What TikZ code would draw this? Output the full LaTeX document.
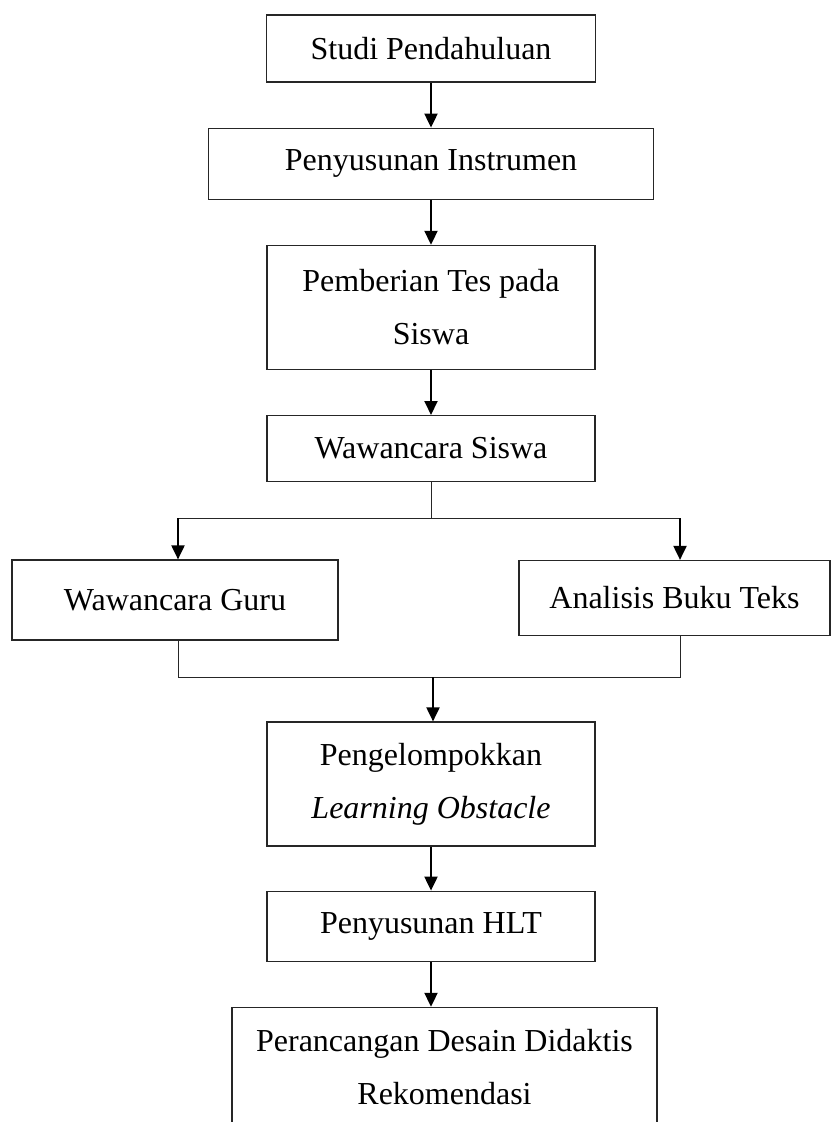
\documentclass[tikz,border=0pt]{standalone}
\usepackage{fontspec}
\setmainfont{Liberation Serif}
\usetikzlibrary{positioning,arrows.meta}

\begin{document}
\begin{tikzpicture}[x=0.5pt, y=-0.5pt,
    stepbox/.style={draw=black!85, line width=0.6pt, align=center,
        font=\fontsize{16}{26.5}\selectfont, inner sep=0pt},
    flow/.style={-{Triangle[length=7pt,width=6.5pt]}, line width=1pt},
    joint/.style={draw=black!85, line width=0.5pt},
]
\useasboundingbox (0,0) rectangle (834,1122);
\clip (0,0) rectangle (834,1122);

% Main column
\node[stepbox, minimum width=164.5pt, minimum height=33.5pt] (studi) at (431,48.5)
    {Studi Pendahuluan};
\node[stepbox, minimum width=222.5pt, minimum height=35.5pt, below=22.5pt of studi] (instrumen)
    {Penyusunan Instrumen};
\node[stepbox, minimum width=164pt, minimum height=62pt, below=22.5pt of instrumen] (tes)
    {Pemberian Tes pada\\Siswa};
\node[stepbox, minimum width=164pt, minimum height=33pt, below=22.5pt of tes] (wsiswa)
    {Wawancara Siswa};

% Two branches
\node[stepbox, minimum width=163pt, minimum height=40pt] (guru) at (175,600)
    {Wawancara Guru};
\node[stepbox, minimum width=155.5pt, minimum height=37.5pt] (buku) at (674.5,598)
    {Analisis Buku Teks};

% Lower column
\node[stepbox, minimum width=164pt, minimum height=62pt] (lo) at (431,784)
    {Pengelompokkan\\\textit{Learning Obstacle}};
\node[stepbox, minimum width=164pt, minimum height=35pt, below=22pt of lo] (hlt)
    {Penyusunan HLT};
\node[stepbox, minimum width=212.5pt, minimum height=60pt, below=22.5pt of hlt, xshift=6.75pt] (desain)
    {Perancangan Desain Didaktis\\Rekomendasi};

% Straight arrows
\draw[flow] (studi) -- (instrumen);
\draw[flow] (instrumen) -- (tes);
\draw[flow] (tes) -- (wsiswa);
\draw[flow] (lo) -- (hlt);
\draw[flow] (hlt) -- (hlt |- desain.north);

% Split
\coordinate (split) at (431,518);
\coordinate (splitL) at (178,518);
\coordinate (splitR) at (680,518);
\draw[joint] (wsiswa) -- (split);
\draw[joint] (splitL) -- (splitR);
\draw[flow] (splitL) -- (splitL |- guru.north);
\draw[flow] (splitR) -- (splitR |- buku.north);

% Merge
\coordinate (mergeL) at (178,677);
\coordinate (mergeR) at (680,677);
\coordinate (merge) at (433,677);
\draw[joint] (guru.south -| mergeL) -- (mergeL) -- (mergeR) -- (buku.south -| mergeR);
\draw[flow] (merge) -- (merge |- lo.north);

\end{tikzpicture}
\end{document}
